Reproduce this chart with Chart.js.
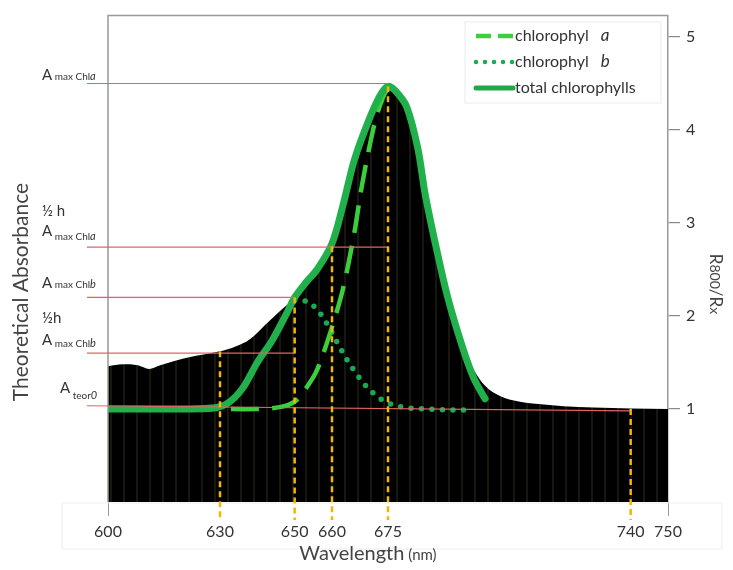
<!DOCTYPE html>
<html>
<head>
<meta charset="utf-8">
<script src="https://cdn.jsdelivr.net/npm/chart.js@4"></script>
<style>
  body { margin: 0; background: #fff; }
  #wrap { width: 733px; height: 570px; }
</style>
</head>
<body>
<div id="wrap"><canvas id="spectrum"></canvas></div>
<script>
// axis ticks
const xTicks = [600, 630, 650, 660, 675, 740, 750];
const yTicks = [1, 2, 3, 4, 5];

// chlorophyll a (dashed)
const chlAWl  = [600, 610, 620, 630, 640, 646, 650, 653, 656, 660, 663, 666, 668, 671, 673, 675, 677, 680, 683, 685, 688, 691, 695, 698, 701];
const chlAVal = [1.0, 1.0, 1.0, 1.0, 1.0, 1.02, 1.08, 1.22, 1.42, 1.88, 2.3, 2.9, 3.4, 4.0, 4.28, 4.44, 4.4, 4.23, 3.78, 3.28, 2.7, 2.18, 1.64, 1.31, 1.1];

// chlorophyll b (dotted)
const chlBWl  = [650, 653, 656, 658, 660, 662, 664, 666, 668, 670, 673, 676, 679, 685, 692, 698];
const chlBVal = [2.17, 2.16, 2.07, 1.96, 1.82, 1.67, 1.53, 1.41, 1.3, 1.21, 1.11, 1.05, 1.02, 1.0, 0.99, 0.99];

// total chlorophylls
const totalWl  = [600, 610, 620, 628, 632, 636, 640, 644, 648, 650, 653, 656, 660, 663, 666, 670, 673, 675, 677, 680, 683, 685, 688, 691, 695, 698, 701];
const totalVal = [1.0, 1.0, 1.0, 1.01, 1.06, 1.22, 1.5, 1.74, 2.04, 2.2, 2.36, 2.5, 2.78, 3.2, 3.68, 4.12, 4.38, 4.47, 4.42, 4.25, 3.8, 3.3, 2.72, 2.2, 1.66, 1.33, 1.11];

// measured R800/Rx spectrum (black area)
const specWl  = [600, 604, 608, 611, 614, 618, 622, 626, 630, 634, 638, 642, 646, 650, 653, 656, 660, 663, 666, 670, 673, 675, 677, 680, 683, 685, 688, 691, 695, 698, 701, 705, 710, 716, 722, 730, 740, 750];
const specVal = [1.46, 1.48, 1.47, 1.43, 1.47, 1.52, 1.56, 1.59, 1.62, 1.67, 1.75, 1.9, 2.05, 2.2, 2.34, 2.47, 2.74, 3.14, 3.62, 4.06, 4.33, 4.43, 4.38, 4.2, 3.75, 3.25, 2.68, 2.2, 1.7, 1.42, 1.25, 1.14, 1.08, 1.05, 1.03, 1.015, 1.005, 1.0];

// reference levels (red lines) and their end wavelength
const levelVal = [4.5, 2.74, 2.2, 1.6];
const levelEnd = [675, 675, 650, 650];
const teorWl   = [600, 740];
const teorVal  = [1.035, 0.98];

// yellow markers: wavelength and height they reach
const markWl  = [630, 650, 660, 675, 740];
const markTop = [1.62, 2.2, 2.75, 4.47, 1.0];

const pts = (xs, ys) => xs.map((x, i) => ({ x: x, y: ys[i] }));

// faint vertical stripes inside the black area
const pc = document.createElement('canvas');
pc.width = 13; pc.height = 4;
const pctx = pc.getContext('2d');
pctx.fillStyle = '#000';
pctx.fillRect(0, 0, 13, 4);
pctx.fillStyle = '#17170f';
pctx.fillRect(6, 0, 2, 4);
const stripes = pctx.createPattern(pc, 'repeat');

const FONT = 'Lato';

function richText(ctx, parts, x, y, align) {
  let w = 0;
  parts.forEach(p => {
    ctx.font = (p.italic ? 'italic ' : '') + p.size + 'px ' + FONT;
    p.w = ctx.measureText(p.t).width;
    w += p.w;
  });
  let cx = align === 'center' ? x - w / 2 : (align === 'right' ? x - w : x);
  parts.forEach(p => {
    ctx.font = (p.italic ? 'italic ' : '') + p.size + 'px ' + FONT;
    ctx.fillText(p.t, cx, y + (p.dy || 0));
    cx += p.w;
  });
  return w;
}

const decor = {
  id: 'decor',
  afterDatasetsDraw(chart) {
    const ctx = chart.ctx;
    const xs = chart.scales.x, ys = chart.scales.y;
    const area = chart.chartArea;
    ctx.save();

    // plot frame (top + left)
    ctx.strokeStyle = '#999';
    ctx.lineWidth = 1.5;
    ctx.beginPath();
    ctx.moveTo(area.left, area.bottom);
    ctx.lineTo(area.left, area.top);
    ctx.lineTo(area.right, area.top);
    ctx.stroke();

    // faint box around x labels
    ctx.strokeStyle = '#eeeeee';
    ctx.lineWidth = 1;
    ctx.strokeRect(62, area.bottom + 1, 660, 46);

    // red reference lines
    ctx.strokeStyle = '#e06464';
    ctx.lineWidth = 1.2;
    levelVal.forEach((v, i) => {
      const y = ys.getPixelForValue(v);
      ctx.beginPath();
      ctx.moveTo(area.left - 21, y);
      ctx.lineTo(xs.getPixelForValue(levelEnd[i]), y);
      ctx.stroke();
    });
    const t0 = ys.getPixelForValue(teorVal[0]);
    const t1 = ys.getPixelForValue(teorVal[1]);
    ctx.beginPath();
    ctx.moveTo(area.left - 21, t0);
    ctx.lineTo(xs.getPixelForValue(teorWl[1]), t1);
    ctx.stroke();

    // yellow dashed markers
    ctx.strokeStyle = '#f2b705';
    ctx.lineWidth = 2.5;
    ctx.setLineDash([6, 4]);
    markWl.forEach((w, i) => {
      const x = xs.getPixelForValue(w);
      ctx.beginPath();
      ctx.moveTo(x, ys.getPixelForValue(markTop[i]));
      ctx.lineTo(x, area.bottom + 18);
      ctx.stroke();
    });
    ctx.setLineDash([]);

    // left labels
    ctx.fillStyle = '#333';
    ctx.textBaseline = 'alphabetic';
    const l0 = ys.getPixelForValue(levelVal[0]);
    richText(ctx, [{ t: 'A', size: 15 }, { t: ' max Chl', size: 10 }, { t: 'a', size: 11, italic: true }], 42, l0 - 3);
    const l1 = ys.getPixelForValue(levelVal[1]);
    richText(ctx, [{ t: '½ h', size: 15 }], 42, l1 - 31);
    richText(ctx, [{ t: 'A', size: 15 }, { t: ' max Chl', size: 10, dy: 4 }, { t: 'a', size: 11, italic: true, dy: 4 }], 42, l1 - 11);
    const l2 = ys.getPixelForValue(levelVal[2]);
    richText(ctx, [{ t: 'A', size: 15 }, { t: ' max Chl', size: 10 }, { t: 'b', size: 11, italic: true }], 42, l2 - 9);
    const l3 = ys.getPixelForValue(levelVal[3]);
    richText(ctx, [{ t: '½h', size: 15 }], 42, l3 - 30);
    richText(ctx, [{ t: 'A', size: 15 }, { t: ' max Chl', size: 10, dy: 2 }, { t: 'b', size: 11, italic: true, dy: 2 }], 42, l3 - 8);
    richText(ctx, [{ t: 'A', size: 15 }, { t: ' teor', size: 10, dy: 6 }, { t: '0', size: 11, italic: true, dy: 6 }], 60, t0 - 13);

    // axis titles
    ctx.fillStyle = '#444';
    richText(ctx, [{ t: 'Wavelength', size: 20 }, { t: ' (nm)', size: 15 }], 368, 560, 'center');

    ctx.save();
    ctx.translate(28, 292);
    ctx.rotate(-Math.PI / 2);
    richText(ctx, [{ t: 'Theoretical Absorbance', size: 21 }], 0, 0, 'center');
    ctx.restore();

    ctx.save();
    ctx.translate(710, 284);
    ctx.rotate(Math.PI / 2);
    richText(ctx, [{ t: 'R', size: 17 }, { t: '800', size: 14 }, { t: '/R', size: 17 }, { t: 'x', size: 14 }], 0, 0, 'center');
    ctx.restore();

    // legend
    ctx.fillStyle = '#fff';
    ctx.fillRect(465, 22, 196, 81);
    ctx.strokeStyle = '#ececec';
    ctx.lineWidth = 1;
    ctx.strokeRect(465, 22, 196, 81);
    const items = [
      { y: 36, color: '#3ccf3c', w: 4.5, dash: [15, 7], cap: 'butt', label: 'chlorophyl', it: 'a' },
      { y: 62, color: '#1aaa55', w: 4.5, dash: [0, 9], cap: 'round', label: 'chlorophyl', it: 'b' },
      { y: 88, color: '#1fa845', w: 5, dash: [], cap: 'round', label: 'total chlorophylls', it: '' }
    ];
    items.forEach(it => {
      ctx.strokeStyle = it.color;
      ctx.lineWidth = it.w;
      ctx.lineCap = it.cap;
      ctx.setLineDash(it.dash);
      ctx.beginPath();
      ctx.moveTo(476, it.y);
      ctx.lineTo(513, it.y);
      ctx.stroke();
      ctx.setLineDash([]);
      ctx.lineCap = 'butt';
      ctx.fillStyle = '#333';
      ctx.textBaseline = 'middle';
      const parts = [{ t: it.label, size: 16 }];
      if (it.it) parts.push({ t: '   ' + it.it, size: 17, italic: true });
      richText(ctx, parts, 515, it.y);
    });
    ctx.restore();
  }
};

const ctx = document.getElementById('spectrum').getContext('2d');
new Chart(ctx, {
  type: 'line',
  data: {
    datasets: [
      {
        label: 'total chlorophylls',
        data: pts(totalWl, totalVal),
        borderColor: '#21b04b',
        borderWidth: 7,
        borderCapStyle: 'round',
        tension: 0.3,
        pointRadius: 0,
        fill: false
      },
      {
        label: 'chlorophyl a',
        data: pts(chlAWl, chlAVal),
        borderColor: '#3ccf3c',
        borderWidth: 4.5,
        borderDash: [28, 13],
        tension: 0.3,
        pointRadius: 0,
        fill: false
      },
      {
        label: 'chlorophyl b',
        data: pts(chlBWl, chlBVal),
        borderColor: '#1aaa55',
        borderWidth: 5.5,
        borderDash: [0, 10.5],
        borderCapStyle: 'round',
        cubicInterpolationMode: 'monotone',
        pointRadius: 0,
        fill: false
      },
      {
        label: 'spectrum',
        data: pts(specWl, specVal),
        borderWidth: 0,
        backgroundColor: stripes,
        cubicInterpolationMode: 'monotone',
        pointRadius: 0,
        fill: 'origin'
      }
    ]
  },
  options: {
    responsive: true,
    maintainAspectRatio: false,
    animation: false,
    layout: { padding: { left: 108, top: 10, right: 0, bottom: 0 } },
    plugins: { legend: { display: false }, tooltip: { enabled: false } },
    scales: {
      x: {
        type: 'linear',
        min: 600,
        max: 750,
        afterBuildTicks: s => { s.ticks = xTicks.map(v => ({ value: v })); },
        afterFit: s => { s.height = 68; },
        grid: {
          drawOnChartArea: false,
          tickLength: 14,
          color: c => (c.tick && (c.tick.value === 600 || c.tick.value === 750)) ? '#999' : 'rgba(0,0,0,0)'
        },
        border: { display: false },
        ticks: { font: { family: FONT, size: 16 }, color: '#333', padding: 6, maxRotation: 0, autoSkip: false }
      },
      y: {
        position: 'right',
        min: 0,
        max: 5.23,
        afterBuildTicks: s => { s.ticks = yTicks.map(v => ({ value: v })); },
        afterFit: s => { s.width = 65; },
        grid: { drawOnChartArea: false, tickLength: 12, color: '#888', lineWidth: 1.2 },
        border: { display: true, color: '#999', width: 1.5 },
        ticks: { font: { family: FONT, size: 16 }, color: '#333', padding: 6 }
      }
    }
  },
  plugins: [decor]
});
</script>
</body>
</html>
